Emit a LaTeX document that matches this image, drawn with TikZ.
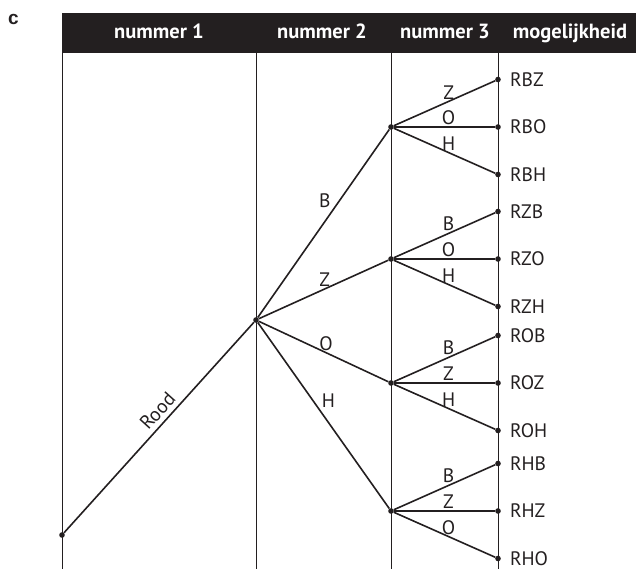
\documentclass[tikz,border=0pt]{standalone}
\usepackage{fontspec}
\setmainfont{PT Sans}
\newfontfamily\kopletter{Liberation Sans}
\usetikzlibrary{positioning}
\definecolor{ink}{HTML}{231F20}

\begin{document}
\begin{tikzpicture}[
        x=1pt,
        y=-1pt,
        font=\fontsize{19.5}{21}\selectfont,
        tak/.style={ink, line width=1.6pt},
        kolom/.style={ink, line width=0.9pt},
        knoop/.style={circle, fill=ink, inner sep=0pt, minimum size=5.6pt},
        kop/.style={text=white, anchor=base, font=\fontsize{20.5}{21}\selectfont\bfseries},
        tlab/.style={text=ink, inner sep=1.5pt},
        blad/.style={text=ink, inner sep=0.3pt}
    ]
        \useasboundingbox (0,0) rectangle (636,569);

        % kopbalk en kolommen
        \fill[ink] (62,13) rectangle (636,53);
        \node[text=ink, font=\kopletter\fontsize{19}{20}\selectfont\bfseries] (letter) at (13.5,19) {c};
        \foreach \x/\kol/\tekst in {159/k1/nummer 1,322/k2/nummer 2,445/k3/nummer 3,570/k4/mogelijkheid} {
            \node[kop] (\kol) at (\x,39) {\tekst};
        }
        \foreach \x in {62,256,391,498} {
            \draw[kolom] (\x,53) -- (\x,569);
        }

        % boom
        \node[knoop] (start) at (62,535) {};
        \node[knoop] (rood) at (256,320) {};
        \draw[tak] (start) -- node[tlab, pos=0.54, sloped, above=3pt] {Rood} (rood);

        \foreach \g/\y/\p/\anc/\ta/\tb/\tc in {B/127/0.57/south east/Z/O/H,Z/259/0.51/south/B/O/H,O/383/0.52/south/B/Z/H,H/511/0.47/south west/B/Z/O} {
            \node[knoop] (\g) at (391,\y) {};
            \draw[tak] (rood) -- node[tlab, pos=\p, anchor=\anc] {\g} (\g);
            \foreach \t/\dy in {\ta/-47.5,\tb/0,\tc/47.5} {
                \node[knoop] (\g\t) at (498,\y+\dy) {};
                \node[blad, right=8.5pt of \g\t] (\g\t-lab) {R\g\t};
                \draw[tak] (\g) -- node[tlab, pos=0.54, above] {\t} (\g\t);
            }
        }
    \end{tikzpicture}
\end{document}
